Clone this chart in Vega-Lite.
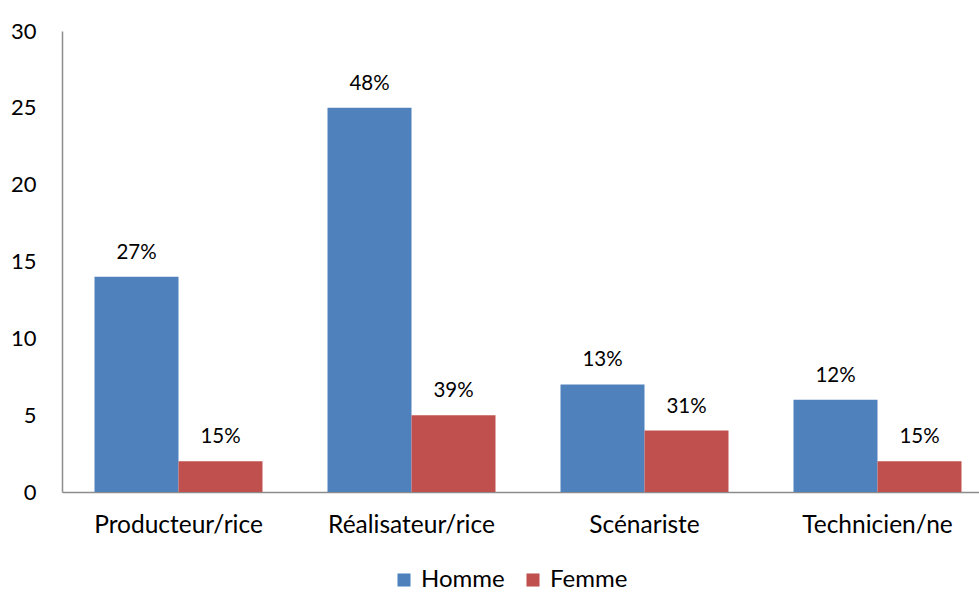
{
  "$schema": "https://vega.github.io/schema/vega-lite/v6.json",
  "autosize": {"type": "none"},
  "width": 932,
  "height": 461,
  "padding": {"left": 62, "top": 31, "right": 0, "bottom": 100},
  "background": "white",
  "config": {
    "font": "Lato",
    "view": {"stroke": null}
  },
  "data": {
    "values": [
      {"metier": "Producteur/rice", "sexe": "Homme", "n": 14, "pct": "27%"},
      {"metier": "Producteur/rice", "sexe": "Femme", "n": 2, "pct": "15%"},
      {"metier": "Réalisateur/rice", "sexe": "Homme", "n": 25, "pct": "48%"},
      {"metier": "Réalisateur/rice", "sexe": "Femme", "n": 5, "pct": "39%"},
      {"metier": "Scénariste", "sexe": "Homme", "n": 7, "pct": "13%"},
      {"metier": "Scénariste", "sexe": "Femme", "n": 4, "pct": "31%"},
      {"metier": "Technicien/ne", "sexe": "Homme", "n": 6, "pct": "12%"},
      {"metier": "Technicien/ne", "sexe": "Femme", "n": 2, "pct": "15%"}
    ]
  },
  "encoding": {
    "x": {
      "field": "metier", "type": "nominal", "sort": null,
      "scale": {"paddingInner": 0.279, "paddingOuter": 0.1395},
      "axis": {
        "title": null, "labelAngle": 0, "ticks": false, "domainColor": "#8c8c8c", "domainWidth": 1.5,
        "labelFontSize": 24.5, "labelColor": "#000", "labelPadding": 21, "grid": false
      }
    },
    "xOffset": {"field": "sexe", "type": "nominal", "sort": ["Homme", "Femme"], "scale": {"paddingInner": 0, "paddingOuter": 0}},
    "y": {
      "field": "n", "type": "quantitative",
      "scale": {"domain": [0, 30], "nice": false},
      "axis": {
        "title": null, "values": [0, 5, 10, 15, 20, 25, 30], "ticks": false, "grid": false,
        "domainColor": "#8c8c8c", "domainWidth": 1.5, "labelFontSize": 22, "labelColor": "#000", "labelPadding": 26
      }
    }
  },
  "layer": [
    {
      "mark": {"type": "bar"},
      "encoding": {
        "color": {
          "field": "sexe", "type": "nominal",
          "scale": {"domain": ["Homme", "Femme"], "range": ["#4F81BD", "#C0504D"]},
          "legend": {
            "title": null, "orient": "none", "direction": "horizontal", "legendX": 330, "legendY": 537,
            "symbolType": "square", "symbolSize": 170, "symbolStrokeWidth": 0, "labelFontSize": 24, "labelColor": "#000",
            "columnPadding": 16, "labelOffset": 5
          }
        }
      }
    },
    {
      "mark": {"type": "text", "baseline": "alphabetic", "dy": -18, "fontSize": 20.5, "color": "#000"},
      "encoding": {"text": {"field": "pct"}}
    }
  ]
}
